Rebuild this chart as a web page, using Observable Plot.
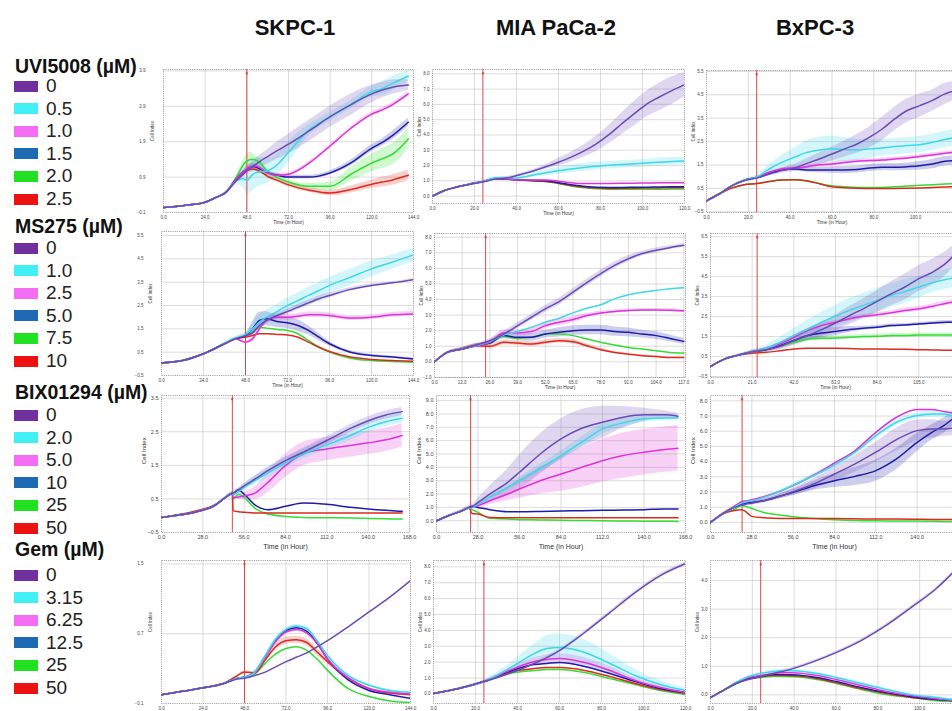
<!DOCTYPE html>
<html><head><meta charset="utf-8">
<script src="https://cdn.jsdelivr.net/npm/d3@7"></script>
<script src="https://cdn.jsdelivr.net/npm/@observablehq/plot@0.6"></script>
<style>
html,body{margin:0;padding:0;background:#fff;}
#root{position:relative;width:952px;height:711px;overflow:hidden;font-family:Arial,"Liberation Sans",sans-serif;}
.ct{position:absolute;font-weight:bold;font-size:22px;line-height:26px;transform:translateX(-50%);white-space:nowrap;color:#111}
.gt{position:absolute;left:15px;font-weight:bold;font-size:19.5px;line-height:16px;color:#111;white-space:nowrap;}
.it{position:absolute;left:14px;font-size:19px;line-height:16px;color:#222;display:flex;align-items:center;white-space:nowrap;}
.sw{width:24px;height:11px;margin-right:8px;}
.pn{position:absolute;}
</style></head><body><div id="root"></div><script>
// ---------- labels ----------
const cellLines = ["SKPC-1", "MIA PaCa-2", "BxPC-3"];
const drugs = ["UVI5008 (µM)", "MS275 (µM)", "BIX01294 (µM)", "Gem (µM)"];
const dosesUVI = ["0", "0.5", "1.0", "1.5", "2.0", "2.5"];
const dosesMS = ["0", "1.0", "2.5", "5.0", "7.5", "10"];
const dosesBIX = ["0", "2.0", "5.0", "10", "25", "50"];
const dosesGem = ["0", "3.15", "6.25", "12.5", "25", "50"];
const swatchColors = ["#7030a0", "#40f0f5", "#f56cf5", "#1f6ab5", "#22e022", "#ee1111"];
const lineColors = ["#6a4bb5", "#3cd8e6", "#dd33d8", "#1c1ca8", "#33dd33", "#dd2a1f"];

// ---------- tick values ----------
const xt144 = [0, 24, 48, 72, 96, 120, 144];
const xt120 = [0, 20, 40, 60, 80, 100, 120];
const xt117 = [0, 13, 26, 39, 52, 65, 78, 91, 104, 117];
const xt126 = [0, 21, 42, 63, 84, 105, 126];
const xt168 = [0, 28, 56, 84, 112, 140, 168];
const yt11 = [-0.1, 0.9, 1.9, 2.9, 3.9];
const yt0to8 = [0, 1, 2, 3, 4, 5, 6, 7, 8];
const ytHalf55 = [-0.5, 0.5, 1.5, 2.5, 3.5, 4.5, 5.5];
const ytM1to8 = [-1, 0, 1, 2, 3, 4, 5, 6, 7, 8];
const ytHalf65 = [-0.5, 0.5, 1.5, 2.5, 3.5, 4.5, 5.5, 6.5];
const ytHalf35 = [-0.5, 0.5, 1.5, 2.5, 3.5];
const yt0to9 = [0, 1, 2, 3, 4, 5, 6, 7, 8, 9];
const yt41 = [-0.1, 0.7, 1.5];
const yt0to4 = [0, 1, 2, 3, 4];

// ---------- SKPC-1 × UVI5008 ----------
const t_S_UVI = [0, 12, 24, 30, 36, 42, 46, 48, 50, 52, 56, 60, 66, 72, 84, 96, 108, 120, 126, 132, 141];
const S_UVI = [
 [0.04,0.10,0.19,0.32,0.47,0.80,0.98,1.08,1.15,1.22,1.36,1.48,1.66,1.83,2.21,2.61,2.95,3.25,3.36,3.44,3.50],
 [0.04,0.10,0.19,0.32,0.47,0.80,0.85,0.80,0.90,1.00,1.05,1.08,1.27,1.60,2.24,2.60,2.95,3.32,3.40,3.55,3.75],
 [0.04,0.10,0.19,0.32,0.47,0.85,1.05,1.12,1.18,1.22,1.15,1.02,0.95,0.98,1.30,1.78,2.28,2.68,2.80,2.95,3.25],
 [0.04,0.10,0.19,0.32,0.47,0.85,1.05,1.12,1.18,1.20,1.12,1.02,0.95,0.90,0.90,1.02,1.30,1.72,1.88,2.08,2.45],
 [0.04,0.10,0.19,0.32,0.47,0.90,1.25,1.35,1.40,1.40,1.28,1.05,0.88,0.76,0.64,0.64,0.98,1.30,1.42,1.55,1.98],
 [0.04,0.10,0.19,0.32,0.47,0.85,1.02,1.08,1.12,1.12,1.05,0.92,0.80,0.68,0.53,0.45,0.55,0.70,0.76,0.82,0.95]];
const S_UVI_err = [
 [0,0,0,0.02,0.03,0.05,0.08,0.1,0.12,0.14,0.18,0.2,0.25,0.28,0.3,0.3,0.3,0.25,0.22,0.2,0.15],
 [0,0,0,0.02,0.05,0.1,0.25,0.4,0.45,0.45,0.4,0.35,0.3,0.3,0.15,0.12,0.12,0.15,0.2,0.2,0.15],
 [0,0,0,0,0,0.03,0.04,0.05,0.05,0.05,0.05,0.05,0.05,0.05,0.05,0.05,0.05,0.06,0.06,0.06,0.06],
 [0,0,0,0,0,0.03,0.05,0.08,0.08,0.08,0.08,0.06,0.05,0.05,0.05,0.06,0.08,0.1,0.1,0.12,0.12],
 [0,0,0,0,0,0.05,0.15,0.2,0.2,0.15,0.1,0.08,0.06,0.06,0.08,0.12,0.2,0.25,0.28,0.3,0.3],
 [0,0,0,0,0,0.03,0.05,0.05,0.05,0.05,0.05,0.05,0.05,0.05,0.06,0.08,0.1,0.12,0.14,0.15,0.15]];

// ---------- MIA PaCa-2 × UVI5008 ----------
const t_M_UVI = [0, 6, 12, 18, 24, 30, 36, 42, 48, 54, 60, 66, 72, 78, 84, 90, 96, 102, 108, 114, 120];
const M_UVI = [
 [0.0,0.39,0.61,0.78,0.93,1.12,1.2,1.42,1.65,1.92,2.22,2.55,2.94,3.42,4.02,4.72,5.38,6.02,6.48,6.9,7.28],
 [0.0,0.39,0.61,0.8,0.95,1.18,1.18,1.22,1.38,1.53,1.66,1.78,1.88,1.96,2.02,2.07,2.12,2.17,2.22,2.27,2.3],
 [0.0,0.39,0.61,0.8,0.95,1.15,1.12,1.05,1.05,1.05,0.98,0.88,0.82,0.82,0.83,0.84,0.85,0.86,0.87,0.88,0.88],
 [0.0,0.39,0.61,0.8,0.95,1.15,1.1,1.05,1.03,1.0,0.88,0.75,0.65,0.58,0.57,0.57,0.58,0.59,0.6,0.61,0.62],
 [0.0,0.39,0.61,0.8,0.95,1.15,1.1,1.05,1.0,0.95,0.82,0.66,0.55,0.48,0.45,0.45,0.45,0.45,0.45,0.46,0.46],
 [0.0,0.39,0.61,0.8,0.95,1.15,1.1,1.05,1.0,0.96,0.85,0.7,0.6,0.53,0.5,0.51,0.52,0.53,0.54,0.55,0.55]];
const M_UVI_err = [
 [0,0,0,0.02,0.05,0.08,0.08,0.08,0.1,0.15,0.25,0.32,0.4,0.5,0.6,0.7,0.8,0.85,0.9,0.9,0.8],
 [0,0,0,0.05,0.1,0.12,0.12,0.12,0.15,0.2,0.22,0.25,0.25,0.25,0.25,0.25,0.25,0.25,0.25,0.25,0.25],
 null, null, null, null];

// ---------- BxPC-3 × UVI5008 ----------
const t_B_UVI = [0, 6, 12, 18, 24, 30, 36, 42, 48, 54, 60, 66, 72, 78, 84, 90, 96, 102, 108, 114, 118];
const B_UVI = [
 [-0.03,0.26,0.61,0.83,0.94,1.11,1.26,1.37,1.57,1.76,1.97,2.19,2.4,2.69,3.04,3.47,3.83,4.04,4.26,4.54,4.66],
 [-0.03,0.26,0.61,0.85,0.98,1.33,1.61,1.83,2.04,2.14,2.19,2.16,2.14,2.19,2.23,2.29,2.33,2.37,2.47,2.59,2.66],
 [-0.03,0.26,0.61,0.85,0.97,1.19,1.33,1.37,1.43,1.51,1.54,1.61,1.66,1.69,1.71,1.76,1.8,1.86,1.93,2.0,2.04],
 [-0.03,0.26,0.61,0.85,0.97,1.14,1.29,1.33,1.29,1.29,1.29,1.29,1.31,1.37,1.4,1.4,1.43,1.47,1.54,1.66,1.69],
 [-0.03,0.26,0.51,0.66,0.71,0.8,0.86,0.87,0.83,0.71,0.61,0.57,0.54,0.54,0.54,0.57,0.6,0.63,0.66,0.69,0.7],
 [-0.03,0.26,0.51,0.66,0.71,0.8,0.86,0.87,0.82,0.7,0.57,0.53,0.51,0.5,0.5,0.5,0.51,0.52,0.54,0.56,0.57]];
const B_UVI_err = [
 [0,0,0,0.02,0.05,0.08,0.1,0.15,0.2,0.25,0.3,0.35,0.4,0.45,0.5,0.5,0.5,0.5,0.45,0.45,0.4],
 [0,0,0,0.05,0.1,0.2,0.3,0.4,0.5,0.55,0.55,0.5,0.45,0.4,0.35,0.35,0.35,0.35,0.35,0.35,0.35],
 [0,0,0,0,0.03,0.05,0.06,0.08,0.08,0.08,0.08,0.08,0.08,0.08,0.08,0.08,0.08,0.08,0.08,0.08,0.08],
 [0,0,0,0,0.03,0.05,0.06,0.08,0.1,0.12,0.14,0.15,0.15,0.15,0.15,0.15,0.16,0.18,0.2,0.2,0.2],
 null, null];

// ---------- SKPC-1 × MS275 ----------
const t_S_MS = [0, 12, 24, 36, 42, 48, 52, 56, 60, 66, 72, 78, 84, 90, 96, 108, 120, 132, 144];
const S_MS = [
 [0.04,0.14,0.43,0.86,1.07,1.21,1.33,1.64,1.86,2.07,2.24,2.43,2.61,2.79,2.93,3.19,3.36,3.47,3.61],
 [0.04,0.14,0.43,0.88,1.1,1.25,1.5,1.79,2.0,2.24,2.5,2.71,2.93,3.14,3.36,3.71,4.07,4.36,4.67],
 [0.04,0.14,0.43,0.86,1.07,0.93,1.07,1.5,1.86,2.0,2.0,2.04,2.1,2.1,2.07,1.96,2.0,2.1,2.14],
 [0.04,0.14,0.43,0.86,1.07,1.21,1.5,1.86,1.93,1.81,1.76,1.64,1.43,1.14,0.86,0.5,0.36,0.29,0.21],
 [0.04,0.14,0.43,0.86,1.07,1.21,1.36,1.57,1.53,1.47,1.43,1.29,1.0,0.71,0.5,0.24,0.14,0.1,0.07],
 [0.04,0.14,0.43,0.86,1.07,1.14,1.21,1.29,1.29,1.26,1.24,1.14,0.93,0.71,0.53,0.29,0.19,0.14,0.11]];
const S_MS_err = [
 [0,0,0,0.03,0.05,0.08,0.1,0.12,0.12,0.12,0.12,0.12,0.12,0.12,0.1,0.08,0.06,0.05,0.05],
 [0,0,0,0.05,0.08,0.1,0.2,0.3,0.3,0.3,0.32,0.32,0.35,0.35,0.35,0.35,0.35,0.3,0.3],
 [0,0,0,0,0,0.05,0.1,0.12,0.12,0.12,0.12,0.12,0.12,0.12,0.12,0.1,0.1,0.1,0.1],
 [0,0,0,0,0,0.05,0.3,0.35,0.3,0.25,0.25,0.25,0.2,0.15,0.1,0.06,0.05,0.05,0.05],
 null, null];

// ---------- MIA PaCa-2 × MS275 ----------
const t_M_MS = [0, 6, 13, 19.5, 26, 32.5, 39, 45.5, 52, 58.5, 65, 71.5, 78, 84.5, 91, 97.5, 104, 110.5, 117];
const M_MS = [
 [0,0.6,0.82,1.08,1.35,1.78,2.32,2.86,3.4,3.87,4.47,5.08,5.66,6.19,6.62,6.95,7.16,7.33,7.48],
 [0,0.6,0.82,1.05,1.3,1.72,1.94,2.22,2.54,2.8,3.14,3.44,3.66,4.04,4.3,4.47,4.58,4.69,4.75],
 [0,0.6,0.82,1.02,1.25,1.85,1.85,1.94,2.32,2.54,2.71,2.97,3.14,3.23,3.29,3.33,3.33,3.31,3.27],
 [0,0.6,0.82,1.05,1.2,1.68,1.57,1.57,1.78,1.89,2.0,2.04,2.04,1.94,1.89,1.78,1.68,1.5,1.31],
 [0,0.6,0.82,1.05,1.2,1.63,1.5,1.57,1.78,1.78,1.68,1.46,1.25,1.08,0.92,0.82,0.71,0.6,0.56],
 [0,0.6,0.82,1.03,0.99,1.25,1.2,1.14,1.25,1.35,1.29,1.03,0.77,0.6,0.49,0.39,0.34,0.28,0.28]];
const M_MS_err = [
 [0,0.05,0.08,0.1,0.12,0.15,0.2,0.2,0.22,0.22,0.22,0.22,0.22,0.2,0.2,0.15,0.15,0.12,0.12],
 null,
 [0,0.05,0.08,0.1,0.15,0.2,0.2,0.2,0.2,0.2,0.2,0.15,0.12,0.1,0.1,0.1,0.1,0.1,0.1],
 [0,0.05,0.08,0.1,0.12,0.2,0.2,0.25,0.25,0.3,0.3,0.3,0.3,0.3,0.28,0.25,0.25,0.22,0.2],
 null,
 [0,0.05,0.1,0.15,0.15,0.15,0.15,0.15,0.15,0.15,0.15,0.12,0.1,0.08,0.06,0.05,0.05,0.05,0.05]];

// ---------- BxPC-3 × MS275 ----------
const t_B_MS = [0, 7, 14, 21, 28, 35, 42, 49, 56, 63, 70, 77, 84, 91, 98, 105, 112, 119, 122];
const B_MS = [
 [0.0,0.37,0.57,0.74,0.84,1.01,1.3,1.55,1.85,2.18,2.55,2.89,3.26,3.64,3.98,4.4,4.73,5.2,5.49],
 [0.0,0.37,0.57,0.74,0.91,1.21,1.55,1.88,2.22,2.52,2.81,3.06,3.31,3.56,3.76,3.98,4.2,4.37,4.43],
 [0.0,0.37,0.57,0.74,0.88,1.13,1.46,1.8,2.05,2.22,2.39,2.52,2.59,2.69,2.81,2.89,3.02,3.17,3.22],
 [0.0,0.37,0.57,0.74,0.84,1.04,1.3,1.55,1.68,1.75,1.85,1.92,1.97,2.05,2.08,2.13,2.18,2.22,2.22],
 [0.0,0.37,0.57,0.72,0.84,1.01,1.21,1.38,1.41,1.43,1.46,1.5,1.51,1.55,1.55,1.58,1.58,1.58,1.58],
 [0.0,0.37,0.57,0.67,0.71,0.79,0.88,0.91,0.91,0.91,0.9,0.88,0.88,0.87,0.87,0.84,0.83,0.81,0.81]];
const B_MS_err = [
 [0,0.02,0.05,0.08,0.12,0.18,0.25,0.3,0.35,0.4,0.45,0.5,0.55,0.6,0.65,0.65,0.65,0.6,0.55],
 [0,0.02,0.05,0.1,0.15,0.25,0.35,0.45,0.5,0.55,0.6,0.6,0.6,0.6,0.6,0.55,0.5,0.5,0.5],
 [0,0,0,0.03,0.05,0.08,0.1,0.1,0.1,0.1,0.1,0.1,0.1,0.1,0.12,0.12,0.12,0.12,0.12],
 [0,0,0,0.05,0.1,0.15,0.2,0.25,0.25,0.2,0.15,0.1,0.08,0.08,0.08,0.08,0.08,0.08,0.08],
 [0,0,0,0.02,0.04,0.06,0.08,0.1,0.1,0.1,0.1,0.1,0.1,0.1,0.1,0.1,0.1,0.1,0.1],
 null];

// ---------- SKPC-1 × BIX01294 ----------
const t_S_BIX = [0, 12, 24, 36, 42, 48, 48.5, 52, 56, 64, 72, 84, 96, 112, 128, 140, 152, 163];
const S_BIX = [
 [-0.05,0.02,0.12,0.3,0.5,0.67,0.68,0.77,0.89,1.11,1.34,1.64,1.89,2.24,2.6,2.83,3.0,3.1],
 [-0.05,0.02,0.12,0.3,0.5,0.67,0.64,0.71,0.84,1.07,1.27,1.57,1.84,2.11,2.39,2.63,2.8,2.9],
 [-0.05,0.02,0.12,0.3,0.5,0.67,0.54,0.56,0.59,0.69,0.99,1.49,1.84,1.99,2.09,2.17,2.26,2.39],
 [-0.05,0.02,0.12,0.3,0.5,0.67,0.64,0.77,0.64,0.3,0.18,0.28,0.38,0.34,0.25,0.2,0.16,0.13],
 [-0.05,0.02,0.12,0.3,0.5,0.67,0.5,0.64,0.54,0.2,0.05,-0.02,-0.05,-0.06,-0.07,-0.08,-0.09,-0.1],
 [-0.04,0.04,0.15,0.32,0.5,0.67,0.15,0.12,0.1,0.08,0.08,0.08,0.08,0.08,0.08,0.08,0.08,0.08]];
const S_BIX_err = [
 [0,0,0,0.02,0.03,0.05,0.05,0.06,0.08,0.1,0.1,0.1,0.12,0.12,0.12,0.12,0.12,0.12],
 [0,0,0,0.02,0.03,0.05,0.05,0.08,0.1,0.12,0.15,0.15,0.15,0.15,0.15,0.15,0.15,0.15],
 [0,0,0,0,0,0.03,0.05,0.08,0.1,0.2,0.3,0.35,0.35,0.35,0.35,0.35,0.35,0.35],
 null, null, null];

// ---------- MIA PaCa-2 × BIX01294 ----------
const t_M_BIX = [0, 8, 16, 22, 24, 28, 36, 48, 56, 70, 84, 98, 112, 126, 140, 154, 163];
const M_BIX = [
 [0,0.38,0.68,1.0,1.05,1.38,2.0,2.88,3.63,5.0,6.13,6.93,7.38,7.75,7.93,7.93,7.83],
 [0,0.38,0.68,0.95,1.0,1.25,1.75,2.5,3.0,3.93,4.88,5.88,6.88,7.33,7.63,7.7,7.7],
 [0,0.38,0.68,0.95,1.0,1.13,1.5,2.0,2.38,3.0,3.5,4.0,4.5,4.88,5.13,5.33,5.43],
 [0,0.38,0.68,1.0,1.08,1.0,0.83,0.68,0.68,0.7,0.73,0.75,0.78,0.8,0.83,0.88,0.88],
 [0,0.38,0.68,0.95,0.83,0.63,0.18,0.13,0.08,0.06,0.03,0.02,0.0,-0.02,-0.03,-0.04,-0.05],
 [0,0.38,0.68,0.95,0.55,0.5,0.25,0.22,0.22,0.22,0.22,0.22,0.22,0.22,0.22,0.22,0.22]];
const M_BIX_err = [
 [0,0.05,0.1,0.15,0.15,0.3,0.6,1.0,1.3,1.5,1.5,1.4,1.2,0.8,0.5,0.3,0.2],
 [0,0.05,0.1,0.1,0.1,0.12,0.15,0.2,0.25,0.3,0.35,0.4,0.4,0.35,0.25,0.2,0.15],
 [0,0.05,0.1,0.1,0.1,0.2,0.3,0.5,0.7,1.0,1.3,1.5,1.6,1.7,1.7,1.7,1.7],
 null, null, null];

// ---------- BxPC-3 × BIX01294 ----------
const t_B_BIX = [0, 8, 16, 21, 24, 28, 36, 48, 56, 70, 84, 98, 112, 126, 140, 150, 158, 164];
const B_BIX = [
 [0,0.55,0.99,1.14,1.2,1.27,1.43,1.76,2.02,2.53,3.19,3.85,4.62,5.45,6.04,6.15,6.15,6.2],
 [0,0.55,0.99,1.27,1.35,1.43,1.65,2.09,2.46,3.08,3.78,4.62,5.71,6.59,7.03,7.14,7.14,6.99],
 [0,0.6,1.05,1.36,1.42,1.49,1.69,2.09,2.42,3.12,3.91,4.73,5.93,6.92,7.43,7.43,7.3,7.21],
 [0,0.55,0.99,1.21,1.27,1.32,1.43,1.76,1.98,2.42,2.75,3.03,3.41,4.18,5.27,5.93,6.37,6.81],
 [0,0.55,0.84,1.1,1.05,0.92,0.66,0.48,0.37,0.26,0.18,0.13,0.11,0.1,0.09,0.08,0.07,0.07],
 [0,0.55,0.79,0.84,0.7,0.4,0.31,0.26,0.26,0.26,0.26,0.24,0.22,0.22,0.21,0.2,0.2,0.2]];
const B_BIX_err = [
 [0,0.02,0.05,0.08,0.1,0.12,0.15,0.2,0.25,0.35,0.45,0.55,0.65,0.75,0.7,0.6,0.5,0.5],
 [0,0.02,0.05,0.05,0.05,0.05,0.08,0.1,0.12,0.15,0.15,0.15,0.2,0.2,0.2,0.2,0.2,0.2],
 null,
 [0,0.02,0.05,0.05,0.05,0.08,0.1,0.15,0.2,0.3,0.45,0.6,0.7,0.7,0.6,0.5,0.5,0.5],
 null, null];

// ---------- SKPC-1 × Gem ----------
const t_S_GEM = [0, 12, 24, 36, 44, 48, 54, 60, 66, 72, 78, 84, 90, 96, 108, 120, 132, 144];
const S_GEM = [
 [0.0,0.04,0.08,0.13,0.18,0.19,0.22,0.26,0.32,0.38,0.43,0.48,0.55,0.62,0.78,0.95,1.12,1.31],
 [0.0,0.04,0.08,0.13,0.19,0.2,0.26,0.45,0.64,0.75,0.79,0.76,0.62,0.45,0.22,0.11,0.05,0.03],
 [0.0,0.04,0.08,0.13,0.19,0.2,0.26,0.43,0.61,0.72,0.75,0.71,0.59,0.41,0.19,0.07,0.03,0.01],
 [0.0,0.04,0.08,0.13,0.19,0.2,0.26,0.44,0.62,0.74,0.77,0.73,0.59,0.41,0.17,0.05,0.0,-0.04],
 [0.0,0.04,0.08,0.13,0.19,0.2,0.24,0.36,0.47,0.53,0.55,0.51,0.41,0.28,0.07,-0.02,-0.07,-0.09],
 [0.0,0.04,0.08,0.13,0.22,0.26,0.25,0.4,0.55,0.62,0.63,0.6,0.49,0.38,0.19,0.07,0.02,0.0]];
const S_GEM_err = [
 null,
 [0,0,0,0.01,0.01,0.01,0.02,0.02,0.02,0.02,0.02,0.02,0.02,0.02,0.02,0.02,0.01,0.01],
 [0,0,0,0,0,0.01,0.01,0.02,0.02,0.02,0.02,0.02,0.02,0.02,0.02,0.01,0.01,0.01],
 null, null,
 [0,0,0,0,0.01,0.01,0.02,0.03,0.04,0.04,0.04,0.04,0.04,0.03,0.02,0.01,0.01,0.01]];

// ---------- MIA PaCa-2 × Gem ----------
const t_M_GEM = [0, 12, 24, 36, 48, 54, 60, 72, 84, 96, 108, 120];
const M_GEM = [
 [0.03,0.34,0.78,1.29,1.92,2.29,2.73,3.87,5.12,6.38,7.45,8.2],
 [0.03,0.34,0.78,1.6,2.54,2.86,2.92,2.61,1.92,1.16,0.59,0.22],
 [0.03,0.34,0.78,1.48,2.04,2.17,2.23,1.98,1.48,0.85,0.41,0.09],
 [0.03,0.34,0.78,1.41,1.85,1.92,1.98,1.73,1.29,0.78,0.34,0.09],
 [0.03,0.34,0.75,1.29,1.48,1.54,1.54,1.35,0.97,0.59,0.22,-0.03],
 [0.03,0.34,0.78,1.35,1.6,1.66,1.66,1.48,1.1,0.66,0.28,0.03]];
const M_GEM_err = [
 [0,0.05,0.05,0.05,0.08,0.08,0.1,0.1,0.1,0.1,0.1,0.1],
 [0,0.05,0.1,0.3,0.6,0.8,0.85,0.8,0.6,0.4,0.25,0.15],
 [0,0,0.05,0.15,0.25,0.3,0.3,0.3,0.25,0.15,0.1,0.05],
 null, null, null];

// ---------- BxPC-3 × Gem ----------
const t_B_GEM = [0, 6, 12, 18, 24, 30, 36, 48, 60, 72, 84, 96, 108, 116];
const B_GEM = [
 [-0.09,0.15,0.4,0.54,0.64,0.75,0.85,1.13,1.48,1.9,2.43,3.06,3.72,4.28],
 [-0.09,0.15,0.43,0.64,0.75,0.82,0.85,0.78,0.61,0.4,0.19,0.01,-0.09,-0.16],
 [-0.09,0.15,0.42,0.6,0.68,0.75,0.78,0.71,0.54,0.33,0.12,-0.02,-0.13,-0.2],
 [-0.09,0.15,0.4,0.57,0.64,0.71,0.71,0.64,0.47,0.26,0.08,-0.06,-0.16,-0.2],
 [-0.09,0.15,0.38,0.55,0.61,0.64,0.64,0.57,0.4,0.19,0.01,-0.09,-0.2,-0.23],
 [-0.09,0.15,0.4,0.57,0.64,0.68,0.68,0.61,0.43,0.22,0.05,-0.09,-0.16,-0.2]];
const B_GEM_err = [
 [0,0,0.02,0.02,0.03,0.03,0.04,0.05,0.05,0.05,0.05,0.05,0.05,0.05],
 [0,0,0.02,0.03,0.04,0.05,0.05,0.05,0.05,0.05,0.04,0.03,0.03,0.03],
 null, null, null, null];

// treatment times (red line)
const treat = [[48, 24, 24], [48, 24, 23.5], [48, 23, 21.4], [48, 24, 24]];

// ---------- panel layout (frame boxes in page px) ----------
const panels = [
 {t:t_S_UVI, v:S_UVI, e:S_UVI_err, x:[0,144], xt:xt144, y:[-0.1,3.94], yt:yt11, red:treat[0][0], L:163,R:413,T:69,B:212, row:0,col:0},
 {t:t_M_UVI, v:M_UVI, e:M_UVI_err, x:[0,120], xt:xt120, y:[-0.48,8.28], yt:yt0to8, red:treat[0][1], L:432,R:684,T:69,B:203, row:0,col:1},
 {t:t_B_UVI, v:B_UVI, e:B_UVI_err, x:[0,120], xt:xt120, y:[-0.53,5.54], yt:ytHalf55, red:treat[0][2], L:706,R:957,T:70,B:212, row:0,col:2},
 {t:t_S_MS, v:S_MS, e:S_MS_err, x:[0,144], xt:xt144, y:[-0.5,5.67], yt:ytHalf55, red:treat[1][0], L:161,R:413,T:231,B:375, row:1,col:0},
 {t:t_M_MS, v:M_MS, e:M_MS_err, x:[0,117.8], xt:xt117, y:[-1.01,8.24], yt:ytM1to8, red:treat[1][1], L:434,R:685,T:233,B:377, row:1,col:1},
 {t:t_B_MS, v:B_MS, e:B_MS_err, x:[0,126], xt:xt126, y:[-0.55,6.66], yt:ytHalf65, red:treat[1][2], L:710,R:960,T:233,B:377, row:1,col:2},
 {t:t_S_BIX, v:S_BIX, e:S_BIX_err, x:[0,168], xt:xt168, y:[-0.5,3.58], yt:ytHalf35, red:treat[2][0], L:161,R:409,T:395,B:532, row:2,col:0},
 {t:t_M_BIX, v:M_BIX, e:M_BIX_err, x:[0,168], xt:xt168, y:[-0.88,9.38], yt:yt0to9, red:treat[2][1], L:436,R:685,T:395,B:532, row:2,col:1},
 {t:t_B_BIX, v:B_BIX, e:B_BIX_err, x:[0,168], xt:xt168, y:[-0.66,8.35], yt:yt0to8, red:treat[2][2], L:710,R:958,T:395,B:532, row:2,col:2},
 {t:t_S_GEM, v:S_GEM, e:S_GEM_err, x:[0,144], xt:xt144, y:[-0.1,1.54], yt:yt41, red:treat[3][0], L:161,R:410,T:560,B:703, row:3,col:0},
 {t:t_M_GEM, v:M_GEM, e:M_GEM_err, x:[0,120], xt:xt120, y:[-0.6,8.4], yt:yt0to8, red:treat[3][1], L:433,R:685,T:560,B:703, row:3,col:1},
 {t:t_B_GEM, v:B_GEM, e:B_GEM_err, x:[0,120], xt:xt120, y:[-0.3,4.7], yt:yt0to4, red:treat[3][2], L:710,R:961,T:560,B:703, row:3,col:2}
];

const root = document.getElementById("root");
const PAGE_W = 952;

// column titles
const titleX = [295, 556, 815];
cellLines.forEach((c, i) => {
  const d = document.createElement("div");
  d.className = "ct"; d.textContent = c;
  d.style.left = titleX[i] + "px"; d.style.top = "15px";
  root.appendChild(d);
});

// legend
const doseLists = [dosesUVI, dosesMS, dosesBIX, dosesGem];
const titleY = [66, 226, 392, 549];
const itemY0 = [86, 248, 415, 575];
drugs.forEach((g, gi) => {
  const t = document.createElement("div");
  t.className = "gt"; t.textContent = g;
  t.style.top = (titleY[gi] - 8) + "px";
  root.appendChild(t);
  doseLists[gi].forEach((lab, k) => {
    const it = document.createElement("div");
    it.className = "it";
    it.style.top = (itemY0[gi] + k * 22.6 - 8) + "px";
    const sw = document.createElement("div");
    sw.className = "sw"; sw.style.background = swatchColors[k];
    it.appendChild(sw);
    it.appendChild(document.createTextNode(lab));
    root.appendChild(it);
  });
});

const f1 = d3.format(".1f");
const drawOrder = [4, 5, 3, 2, 1, 0];

panels.forEach(p => {
  const big = p.row === 2;
  const mL = p.col === 0 ? (big ? 24 : 34) : 18;
  const mR = 4, mT = 4, mB = big ? 24 : 18;
  const fs = big ? 5.5 : 4.5;
  const width = (p.R - p.L) + mL + mR;
  const height = (p.B - p.T) + mT + mB;
  const rows = [];
  p.v.forEach((s, k) => s.forEach((val, i) => {
    const er = p.e[k] ? p.e[k][i] : 0;
    rows.push({t: p.t[i], v: val, lo: val - er, hi: val + er, k});
  }));
  const ytIn = p.yt.filter(d => d >= p.y[0] - 1e-9 && d <= p.y[1] + 1e-9);
  const xtVisible = p.xt.filter(d => p.L + (p.R - p.L) * (d - p.x[0]) / (p.x[1] - p.x[0]) <= PAGE_W - 12);
  const marks = [
    Plot.ruleX(p.xt.filter(d => d > p.x[0] && d < p.x[1]), {stroke: "#c4c4c4", strokeWidth: 0.6}),
    Plot.ruleY(ytIn.filter(d => d > p.y[0] + 1e-6 && d < p.y[1] - 1e-6), {stroke: "#c4c4c4", strokeWidth: 0.6})
  ];
  drawOrder.forEach(k => {
    if (p.e[k]) marks.push(Plot.areaY(rows.filter(r => r.k === k), {x: "t", y1: "lo", y2: "hi", fill: lineColors[k], fillOpacity: 0.22, curve: "monotone-x", clip: true}));
  });
  marks.push(Plot.ruleX([p.red], {stroke: "#e04848", strokeWidth: 1}));
  drawOrder.forEach(k => {
    marks.push(Plot.line(rows.filter(r => r.k === k), {x: "t", y: "v", stroke: lineColors[k], strokeWidth: 1.5, curve: "monotone-x", clip: true}));
  });
  marks.push(Plot.text([p.red], {x: d => d, frameAnchor: "top", text: () => "\u25BC", fill: "#c0392b", fontSize: 4.5, dy: 2}));
  marks.push(Plot.frame({stroke: "#777", strokeDasharray: "1,1.2", strokeWidth: 0.8}));
  // the bottom row's time label falls below the picture in the reference
  if (p.row < 3) marks.push(Plot.text(["Time (in Hour)"], {frameAnchor: "bottom", text: d => d, fontSize: big ? 7 : 4.8, fill: "#333", dy: big ? 16 : 11}));
  marks.push(Plot.text(["Cell Index"], {frameAnchor: "left", text: d => d, fontSize: big ? 6 : 4.5, fill: "#333", rotate: -90, dx: p.col === 0 && !big ? -11 : (big ? -17 : -13)}));
  const svg = Plot.plot({
    width, height,
    marginLeft: mL, marginRight: mR, marginTop: mT, marginBottom: mB,
    style: {background: "transparent", maxWidth: "none", overflow: "visible", fontFamily: "Arial, 'Liberation Sans', sans-serif", fontSize: fs + "px", color: "#444"},
    x: {domain: p.x, ticks: xtVisible, tickFormat: f1, tickSize: 0, tickPadding: 3, label: null},
    y: {domain: p.y, ticks: ytIn, tickFormat: f1, tickSize: 0, tickPadding: p.col === 0 && !big ? 18 : 3, label: null},
    marks
  });
  const d = document.createElement("div");
  d.className = "pn";
  d.style.left = (p.L - mL) + "px";
  d.style.top = (p.T - mT) + "px";
  d.style.width = width + "px";
  d.style.height = height + "px";
  d.appendChild(svg);
  root.appendChild(d);
});
</script></body></html>
